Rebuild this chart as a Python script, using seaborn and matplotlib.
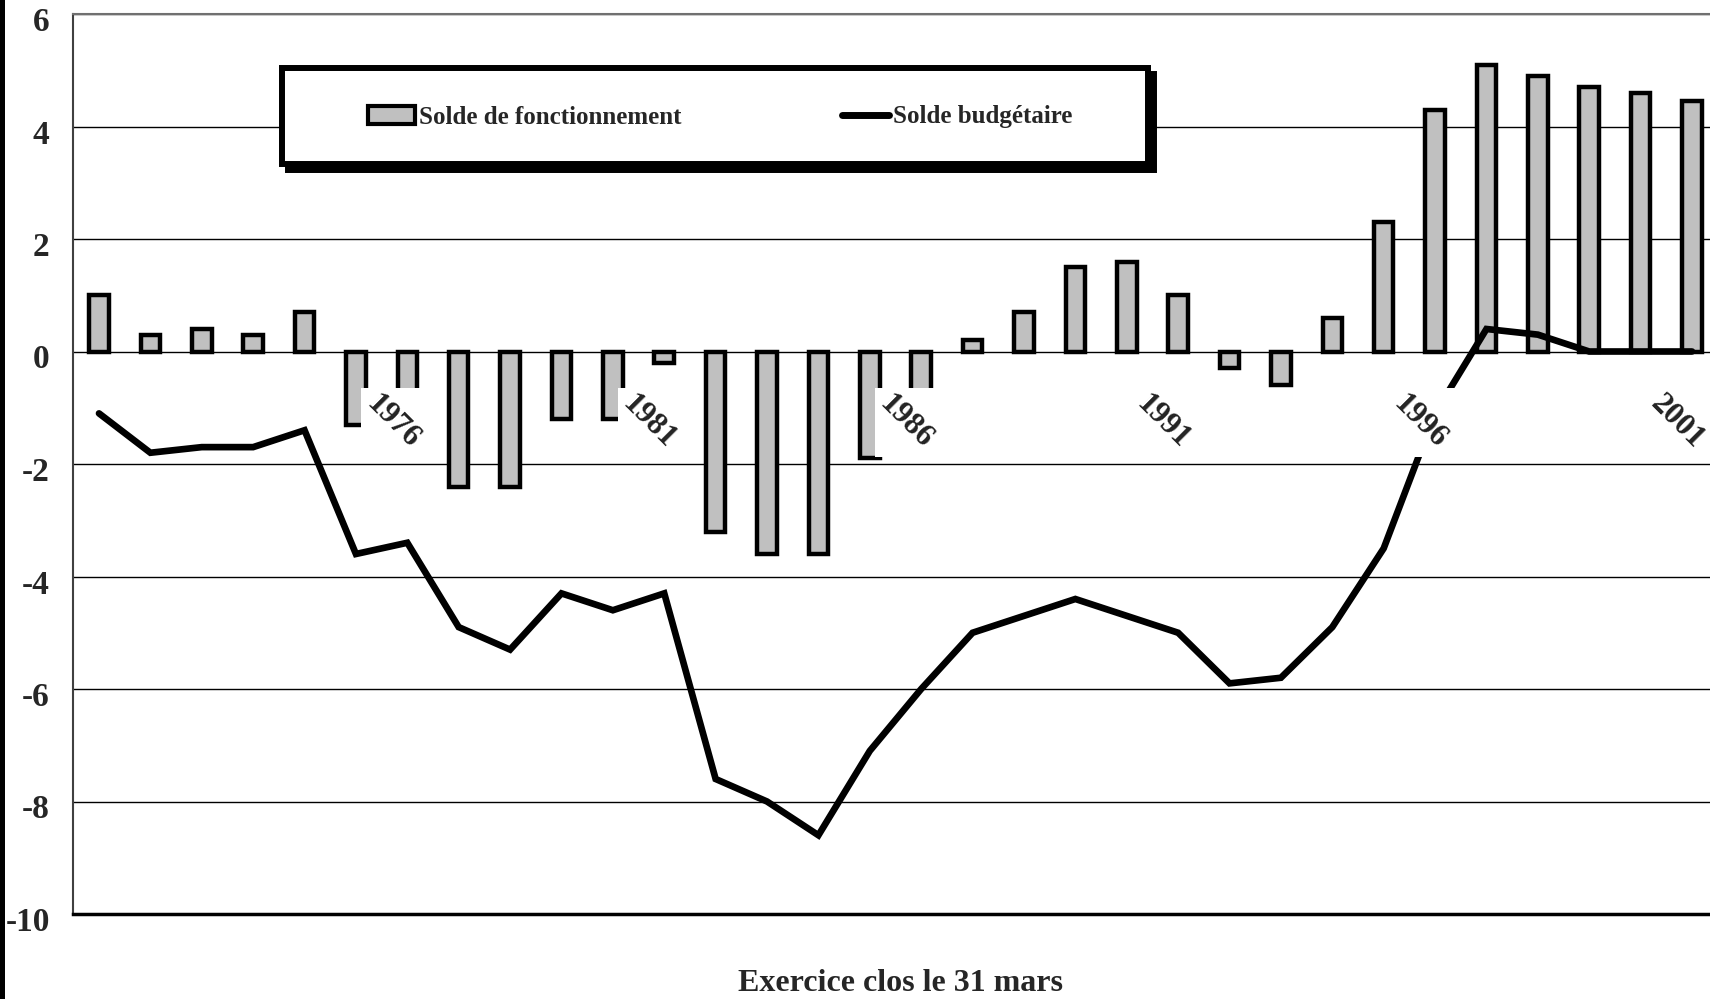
import numpy as np
import pandas as pd
import matplotlib
matplotlib.use('Agg')
import matplotlib.pyplot as plt
import matplotlib.transforms as mtrans
from matplotlib.patches import Patch, Rectangle
from matplotlib.lines import Line2D
import seaborn as sns

sns.set_style('white')
plt.rcParams['font.family'] = ['Liberation Serif', 'DejaVu Serif']

# data (% du PIB)
years = list(range(1971, 2003))
solde_fonct = [1.0, 0.3, 0.4, 0.3, 0.7, -1.3, -1.0, -2.4, -2.4, -1.2,
               -1.2, -0.2, -3.2, -3.6, -3.6, -1.9, -1.2, 0.2, 0.7, 1.5,
               1.6, 1.0, -0.3, -0.6, 0.6, 2.3, 4.3, 5.1, 4.9, 4.7,
               4.6, 4.45]
solde_budget = [-1.1, -1.8, -1.7, -1.7, -1.4, -3.6, -3.4, -4.9, -5.3, -4.3,
                -4.6, -4.3, -7.6, -8.0, -8.6, -7.1, -6.0, -5.0, -4.7, -4.4,
                -4.7, -5.0, -5.9, -5.8, -4.9, -3.5, -1.1, 0.4, 0.3, 0.0,
                0.0, 0.0]
label_years = [1976, 1981, 1986, 1991, 1996, 2001]
y_ticks = list(range(-10, 7, 2))

df = pd.DataFrame({'annee': [str(y) for y in years], 'fonct': solde_fonct,
                   'budget': solde_budget})

fig = plt.figure(figsize=(17.1, 9.99), dpi=100)
ax = fig.add_axes([73.3 / 1710, 85 / 999, 1644.4 / 1710, 900 / 999])

gray = '#c0c0c0'
sns.barplot(data=df, x='annee', y='fonct', color=gray, saturation=1,
            edgecolor='black', linewidth=3.2, width=0.38, ax=ax, zorder=2)
ax.plot(np.arange(len(years)), df['budget'], color='black', lw=4.8,
        solid_joinstyle='miter', zorder=4)

ax.set_xlim(-0.5, len(years) - 0.5)
ax.set_ylim(-10, 6)
ax.set_yticks(y_ticks)
ax.set_yticklabels([str(t) for t in y_ticks], fontsize=24, fontweight='bold')
ax.tick_params(axis='y', length=0, pad=17)
off = mtrans.ScaledTranslation(0, -5 / 100, fig.dpi_scale_trans)
for lab in ax.get_yticklabels():
    lab.set_transform(lab.get_transform() + off)
ax.set_xticks([])
ax.set_ylabel('')
ax.yaxis.grid(True, color='black', lw=1.0)
ax.set_axisbelow(True)

for side in ['top', 'left', 'bottom', 'right']:
    ax.spines[side].set_visible(True)
ax.spines['right'].set_visible(False)
ax.spines['top'].set_color('#707070')
ax.spines['top'].set_linewidth(1.5)
ax.spines['left'].set_color('#404040')
ax.spines['left'].set_linewidth(1.5)
ax.spines['bottom'].set_color('black')
ax.spines['bottom'].set_linewidth(2.5)

# year labels sitting inside the plot with white boxes
for y in label_years:
    i = years.index(y)
    ax.add_patch(Rectangle((i + 0.1, -1.87), 1.35, 1.23, facecolor='white',
                           edgecolor='none', zorder=5))
    ax.text(i + 0.71, -1.25, str(y), rotation=-45, rotation_mode='anchor',
            ha='center', va='center', fontsize=22.5, fontweight='bold',
            color='#222222', zorder=6)

ax.set_xlabel('Exercice clos le 31 mars', fontsize=23, fontweight='bold',
              va='center')
ax.xaxis.set_label_coords(0.503, -0.077)

# legend frame with dark shadow
fig.add_artist(Rectangle((288 / 1710, 1 - 170 / 999), 866 / 1710, 96 / 999,
                         transform=fig.transFigure, facecolor='black',
                         edgecolor='black', lw=4.3, zorder=2))
fig.add_artist(Rectangle((282 / 1710, 1 - 164 / 999), 866 / 1710, 96 / 999,
                         transform=fig.transFigure, facecolor='white',
                         edgecolor='black', lw=4.3, zorder=3))
handles = [Patch(facecolor=gray, edgecolor='black', lw=3),
           Line2D([0], [0], color='black', lw=5)]
fig.legend(handles, ['Solde de fonctionnement', 'Solde budgétaire'], ncol=2,
           loc='center', bbox_to_anchor=(720 / 1710, 1 - 117 / 999),
           frameon=False, prop=dict(weight='bold', size=18),
           handlelength=1.9, handletextpad=0.15, columnspacing=6.4)

# black strip at the left edge
fig.add_artist(Rectangle((0, 0), 5 / 1710, 1, transform=fig.transFigure,
                         facecolor='black', edgecolor='none', zorder=3))

fig.savefig('out.png', dpi=100)
